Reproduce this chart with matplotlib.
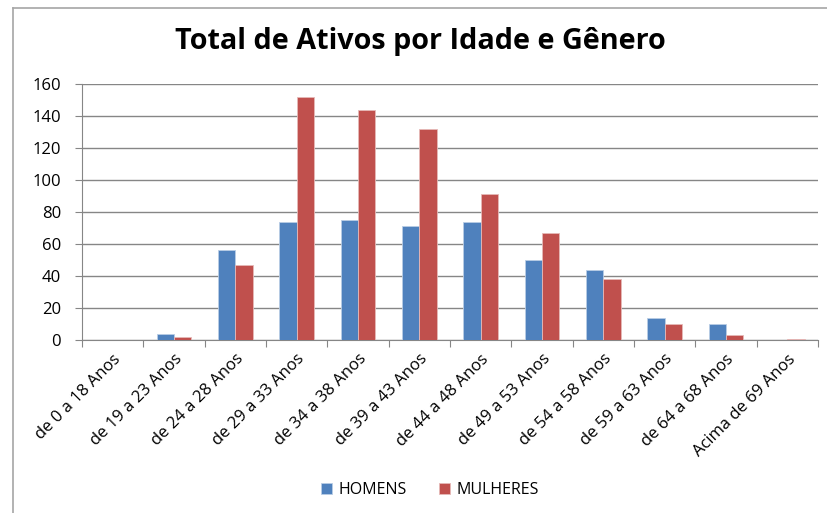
import numpy as np
import matplotlib.pyplot as plt
from matplotlib.lines import Line2D

# Dados
faixas = ['de 0 a 18 Anos', 'de 19 a 23 Anos', 'de 24 a 28 Anos', 'de 29 a 33 Anos',
          'de 34 a 38 Anos', 'de 39 a 43 Anos', 'de 44 a 48 Anos', 'de 49 a 53 Anos',
          'de 54 a 58 Anos', 'de 59 a 63 Anos', 'de 64 a 68 Anos', 'Acima de 69 Anos']
homens = [0, 4, 56, 74, 75, 71, 74, 50, 44, 14, 10, 0]
mulheres = [0, 2, 47, 152, 144, 132, 91, 67, 38, 10, 3, 0.5]
y_ticks = [0, 20, 40, 60, 80, 100, 120, 140, 160]

plt.rcParams['font.family'] = ['Open Sans', 'DejaVu Sans']

fig = plt.figure(figsize=(8.27, 5.13), dpi=100)
ax = fig.add_axes([82/827, 1-340/513, (818-82)/827, (340-84)/513])

x = np.arange(len(faixas))
w = 0.285
ax.bar(x - w/2, homens, w, color='#4F81BD', edgecolor='#B9CDE5', linewidth=0.6, label='HOMENS', zorder=3)
ax.bar(x + w/2, mulheres, w, color='#C0504D', edgecolor='#E6B9B8', linewidth=0.6, label='MULHERES', zorder=3)

ax.set_xlim(-0.5, len(faixas) - 0.5)
ax.set_ylim(0, 160)
ax.set_yticks(y_ticks)
ax.yaxis.grid(True, color='#868686', linewidth=1)
ax.set_axisbelow(True)

ax.set_xticks(np.arange(len(faixas) + 1) - 0.5)
ax.set_xticklabels([])
ax.set_xticks(x, minor=True)
ax.set_xticklabels(faixas, minor=True, rotation=45, ha='right', rotation_mode='anchor', fontsize=12)
ax.tick_params(axis='x', which='minor', length=0, pad=8)
ax.tick_params(axis='x', which='major', length=5, color='#868686', direction='out')
ax.tick_params(axis='y', length=5, color='#868686', labelsize=12, pad=10)

for s in ['top', 'right']:
    ax.spines[s].set_visible(False)
for s in ['left', 'bottom']:
    ax.spines[s].set_color('#868686')

fig.text(420/827, 1-42/513, 'Total de Ativos por Idade e Gênero', ha='center', va='center',
         fontsize=20.7, fontweight='bold')

fig.legend(loc='center', bbox_to_anchor=(430/827, 1-490/513), ncol=2, frameon=False,
           fontsize=11.5, handlelength=0.7, handleheight=0.7, columnspacing=2.0, handletextpad=0.4)

# moldura
fig.add_artist(Line2D([13/827, 13/827], [0, 1-8/513], color='#A6A6A6', linewidth=1.2))
fig.add_artist(Line2D([13/827, 1], [1-8/513, 1-8/513], color='#A6A6A6', linewidth=1.2))

fig.savefig('out.png', dpi=100, facecolor='white')
